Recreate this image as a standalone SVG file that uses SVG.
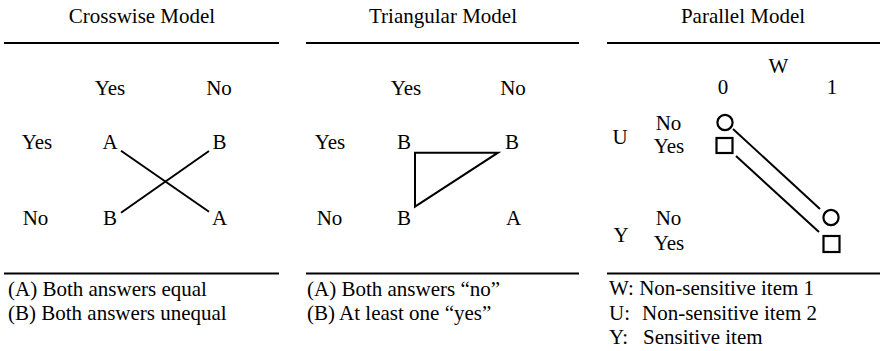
<svg xmlns="http://www.w3.org/2000/svg" width="880" height="351" viewBox="0 0 880 351">
<style>
text { font-family: 'Liberation Serif', 'DejaVu Serif', serif; font-size: 21px; fill: #000; }
.c { text-anchor: middle; }
.rule { stroke: #000; stroke-width: 2.2; fill: none; }
.ln { stroke: #000; stroke-width: 2; fill: none; }
.sym { stroke: #000; stroke-width: 2.2; fill: #fff; }
</style>
<rect width="880" height="351" fill="#fff"/>
<g id="rules">
<line class="rule" x1="4" y1="43" x2="279" y2="43"/>
<line class="rule" x1="306" y1="43" x2="579" y2="43"/>
<line class="rule" x1="607" y1="43" x2="880" y2="43"/>
<line class="rule" x1="4" y1="273.5" x2="279" y2="273.5"/>
<line class="rule" x1="306" y1="273.5" x2="579" y2="273.5"/>
<line class="rule" x1="607" y1="273.5" x2="880" y2="273.5"/>
</g>
<g id="crosswise" font-family="Liberation Serif">
<text class="c" x="142" y="23">Crosswise Model</text>
<text class="c" x="110" y="95">Yes</text>
<text class="c" x="219" y="95">No</text>
<text class="c" x="37" y="149">Yes</text>
<text class="c" x="35.5" y="225">No</text>
<text class="c" x="110" y="149">A</text>
<text class="c" x="219.5" y="149">B</text>
<text class="c" x="110" y="225">B</text>
<text class="c" x="219.5" y="225">A</text>
<text x="8" y="296">(A) Both answers equal</text>
<text x="8" y="320">(B) Both answers unequal</text>
</g>
<g id="triangular">
<text class="c" x="443" y="23">Triangular Model</text>
<text class="c" x="406" y="95">Yes</text>
<text class="c" x="513" y="95">No</text>
<text class="c" x="330" y="149">Yes</text>
<text class="c" x="329.5" y="225">No</text>
<text class="c" x="404" y="149">B</text>
<text class="c" x="512" y="149">B</text>
<text class="c" x="404" y="225">B</text>
<text class="c" x="513.5" y="225">A</text>
<text x="307" y="296">(A) Both answers “no”</text>
<text x="307" y="320">(B) At least one “yes”</text>
</g>
<g id="parallel">
<text class="c" x="743" y="23">Parallel Model</text>
<text class="c" x="778.5" y="73">W</text>
<text class="c" x="723" y="94">0</text>
<text class="c" x="832" y="94">1</text>
<text class="c" x="620" y="144">U</text>
<text class="c" x="668.5" y="130">No</text>
<text class="c" x="669" y="153">Yes</text>
<text class="c" x="621" y="242">Y</text>
<text class="c" x="668.5" y="225">No</text>
<text class="c" x="669" y="250">Yes</text>
<circle id="circle-w0" class="sym" cx="725" cy="122.5" r="7.6"/>
<rect id="square-w0" class="sym" x="716.5" y="138" width="16" height="15"/>
<circle id="circle-w1" class="sym" cx="831" cy="217.5" r="7.6"/>
<rect id="square-w1" class="sym" x="823.5" y="236" width="16" height="16"/>
<text x="609" y="295">W: Non-sensitive item 1</text>
<text x="609" y="320">U:<tspan x="642">Non-sensitive item 2</tspan></text>
<text x="609" y="344">Y:<tspan x="643">Sensitive item</tspan></text>
</g>
<g id="connectors">
<line class="ln" x1="121" y1="150.7" x2="209" y2="211.7"/>
<line class="ln" x1="121" y1="212.7" x2="209" y2="151"/>
<polygon class="ln" points="415,152.7 498,152.7 415,206.7"/>
<line class="ln" x1="733" y1="129" x2="820" y2="209"/>
<line class="ln" x1="736" y1="156" x2="819" y2="232"/>
</g>
</svg>
